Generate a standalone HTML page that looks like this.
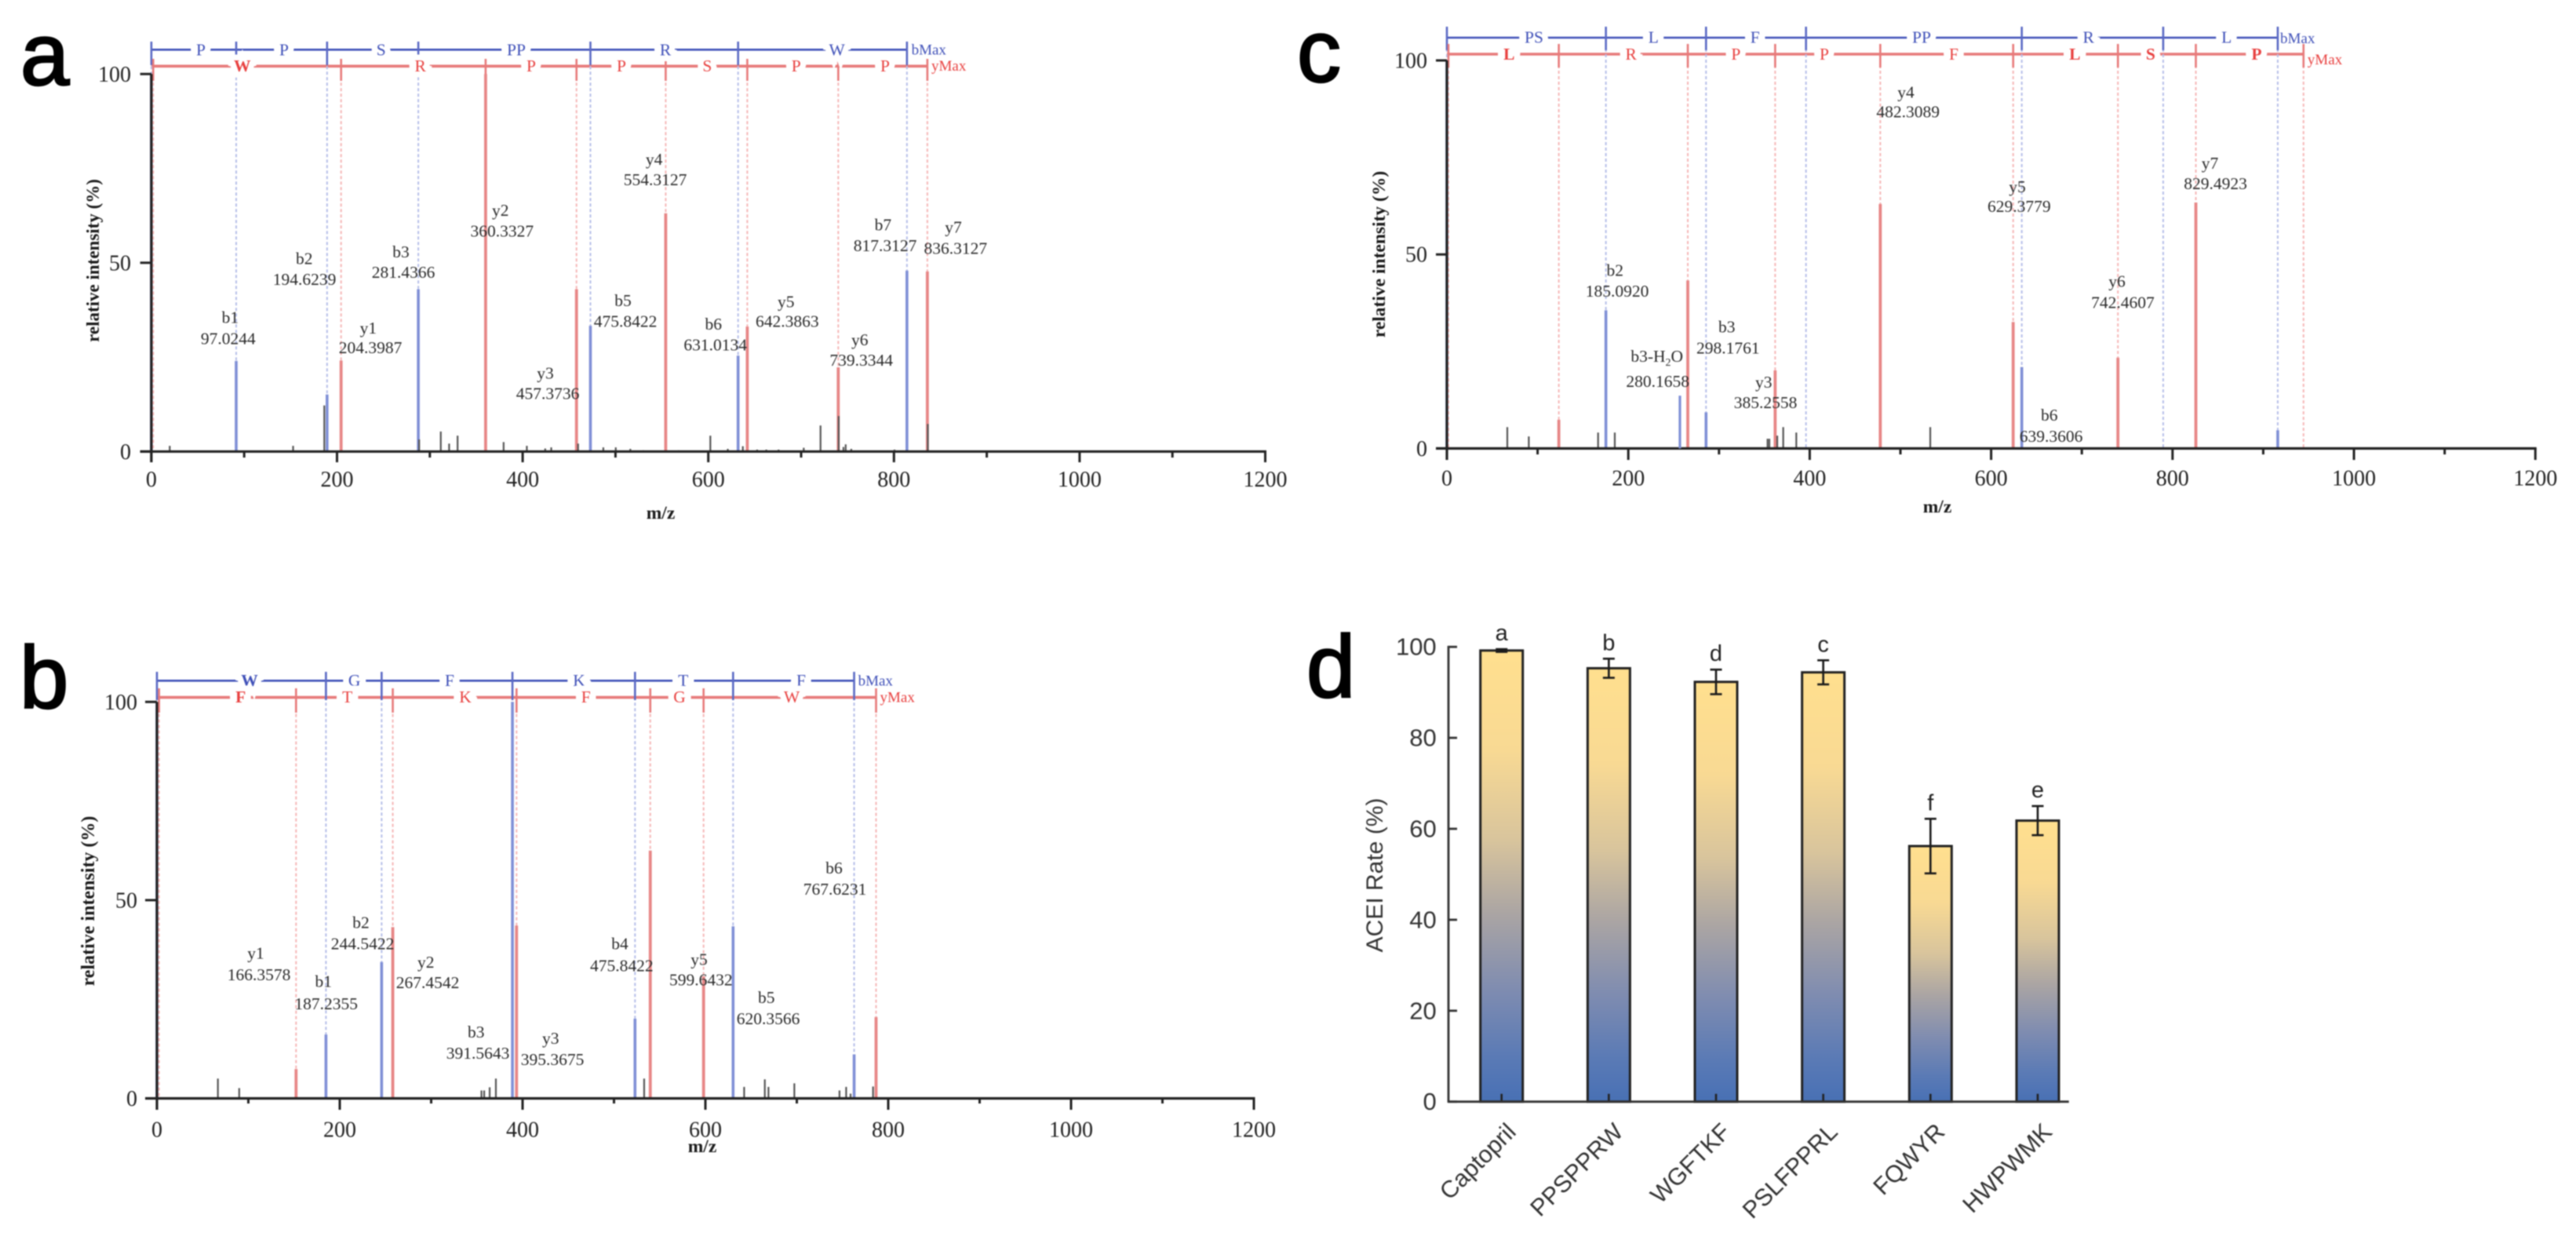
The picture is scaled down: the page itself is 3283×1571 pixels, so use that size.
<!DOCTYPE html>
<html lang="en">
<head>
<meta charset="utf-8">
<title>MS/MS spectra and ACE inhibition rate</title>
<style>
html,body{margin:0;padding:0;background:#fff;width:3283px;height:1571px;overflow:hidden}
svg{display:block;filter:blur(0.8px)}
.lbl{font-family:"Liberation Serif",serif;font-size:21.5px;fill:#2a2a2a;text-anchor:middle}
.panel{font-family:"Liberation Sans",sans-serif;font-size:112px;fill:#000;stroke:#000;stroke-width:2.5px}
.seq{font-family:"Liberation Serif",serif;font-size:21.5px;text-anchor:middle;paint-order:stroke;stroke:#fff;stroke-width:15px}
.b{fill:#3f50b8}
.r{fill:#e8403f}
.bold{font-weight:bold}
.max{font-family:"Liberation Serif",serif;font-size:19px}
.title{font-family:"Liberation Serif",serif;font-weight:bold;fill:#1a1a1a;text-anchor:middle}
</style>
</head>
<body>
<svg xmlns="http://www.w3.org/2000/svg" width="3283" height="1571" viewBox="0 0 3283 1571">
<defs>
<linearGradient id="barGradient" x1="0" y1="0" x2="0" y2="1">
<stop offset="0" stop-color="#ffdf8e"/>
<stop offset="0.22" stop-color="#f8d993"/>
<stop offset="0.42" stop-color="#d8c49c"/>
<stop offset="0.58" stop-color="#aba5a3"/>
<stop offset="0.75" stop-color="#7f8cb0"/>
<stop offset="0.9" stop-color="#5a7ab5"/>
<stop offset="1" stop-color="#4870b4"/>
</linearGradient>
</defs>
<rect x="0" y="0" width="3283" height="1571" fill="#fff"/>
<g id="marks"></g>

<g>
<text class="panel" x="26" y="108">a</text>
<text class="panel" x="25" y="902">b</text>
<text class="panel" x="1653" y="104">c</text>
<text class="panel" x="1665" y="888">d</text>
</g>

<g>
<text class="title" font-size="23" transform="translate(126,332) rotate(-90)">relative intensity (%)</text>
<text class="title" font-size="23.5" x="842" y="661">m/z</text>
<text class="seq b" x="256" y="70.7">P</text>
<text class="seq b" x="362" y="70.7">P</text>
<text class="seq b" x="485.7" y="70.7">S</text>
<text class="seq b" x="658" y="70.7">PP</text>
<text class="seq b" x="848" y="70.7">R</text>
<text class="seq b" x="1066.7" y="70.7">W</text>
<text class="max b" x="1161.6" y="69.5">bMax</text>
<text class="seq r bold" x="308.7" y="91">W</text>
<text class="seq r" x="535.7" y="91">R</text>
<text class="seq r" x="677" y="91">P</text>
<text class="seq r" x="792" y="91">P</text>
<text class="seq r" x="901.4" y="91">S</text>
<text class="seq r" x="1014.7" y="91">P</text>
<text class="seq r" x="1128" y="91">P</text>
<text class="max r" x="1187" y="90">yMax</text>
<text class="lbl" x="293.4" y="411.7">b1</text><text class="lbl" x="290.8" y="438.3">97.0244</text>
<text class="lbl" x="387.8" y="336.7">b2</text><text class="lbl" x="388" y="363">194.6239</text>
<text class="lbl" x="469.4" y="425">y1</text><text class="lbl" x="472" y="450">204.3987</text>
<text class="lbl" x="511" y="328">b3</text><text class="lbl" x="514" y="354">281.4366</text>
<text class="lbl" x="637.8" y="275">y2</text><text class="lbl" x="639.8" y="301.7">360.3327</text>
<text class="lbl" x="695" y="482.7">y3</text><text class="lbl" x="698" y="508.3">457.3736</text>
<text class="lbl" x="794" y="390">b5</text><text class="lbl" x="797" y="416.7">475.8422</text>
<text class="lbl" x="833.6" y="210">y4</text><text class="lbl" x="835" y="236">554.3127</text>
<text class="lbl" x="909.3" y="420">b6</text><text class="lbl" x="911.7" y="446.7">631.0134</text>
<text class="lbl" x="1001.7" y="391.7">y5</text><text class="lbl" x="1003.3" y="416.7">642.3863</text>
<text class="lbl" x="1095.7" y="440">y6</text><text class="lbl" x="1097.7" y="466">739.3344</text>
<text class="lbl" x="1125.4" y="293.3">b7</text><text class="lbl" x="1128" y="320">817.3127</text>
<text class="lbl" x="1215" y="296.7">y7</text><text class="lbl" x="1217.8" y="323.3">836.3127</text>
</g>

<g>
<text class="title" font-size="24" transform="translate(120,1148) rotate(-90)">relative intensity (%)</text>
<text class="title" font-size="23.5" x="895" y="1468">m/z</text>
<text class="seq b bold" x="318" y="874">W</text>
<text class="seq b" x="451.7" y="874">G</text>
<text class="seq b" x="573" y="874">F</text>
<text class="seq b" x="738" y="874">K</text>
<text class="seq b" x="870.7" y="874">T</text>
<text class="seq b" x="1021" y="874">F</text>
<text class="max b" x="1093.6" y="873.4">bMax</text>
<text class="seq r bold" x="306.7" y="895">F</text>
<text class="seq r" x="442.7" y="895">T</text>
<text class="seq r" x="593" y="895">K</text>
<text class="seq r" x="746.7" y="895">F</text>
<text class="seq r" x="866" y="895">G</text>
<text class="seq r" x="1009" y="895">W</text>
<text class="max r" x="1121.5" y="894.3">yMax</text>
<text class="lbl" x="326" y="1221.6">y1</text><text class="lbl" x="330" y="1249">166.3578</text>
<text class="lbl" x="412.3" y="1257.7">b1</text><text class="lbl" x="415.7" y="1285.8">187.2355</text>
<text class="lbl" x="460" y="1182.6">b2</text><text class="lbl" x="462" y="1209.5">244.5422</text>
<text class="lbl" x="542.7" y="1232.8">y2</text><text class="lbl" x="545" y="1259">267.4542</text>
<text class="lbl" x="606.7" y="1322">b3</text><text class="lbl" x="609" y="1348.9">391.5643</text>
<text class="lbl" x="701.7" y="1330">y3</text><text class="lbl" x="704" y="1356.9">395.3675</text>
<text class="lbl" x="790" y="1209.5">b4</text><text class="lbl" x="792.3" y="1237.6">475.8422</text>
<text class="lbl" x="891" y="1229.6">y5</text><text class="lbl" x="893.3" y="1255.7">599.6432</text>
<text class="lbl" x="976.7" y="1277.8">b5</text><text class="lbl" x="979" y="1305">620.3566</text>
<text class="lbl" x="1063" y="1113">b6</text><text class="lbl" x="1064" y="1140">767.6231</text>
</g>

<g>
<text class="title" font-size="23.5" transform="translate(1765,324) rotate(-90)">relative intensity (%)</text>
<text class="title" font-size="23.5" x="2469" y="653">m/z</text>
<text class="seq b" x="1955" y="54.5">PS</text>
<text class="seq b" x="2107.3" y="54.5">L</text>
<text class="seq b" x="2236.7" y="54.5">F</text>
<text class="seq b" x="2449" y="54.5">PP</text>
<text class="seq b" x="2661.7" y="54.5">R</text>
<text class="seq b" x="2837.7" y="54.5">L</text>
<text class="max b" x="2906" y="55">bMax</text>
<text class="seq r bold" x="1923.3" y="76">L</text>
<text class="seq r" x="2078.7" y="76">R</text>
<text class="seq r" x="2212.3" y="76">P</text>
<text class="seq r" x="2325" y="76">P</text>
<text class="seq r" x="2490" y="76">F</text>
<text class="seq r bold" x="2644.3" y="76">L</text>
<text class="seq r bold" x="2740.8" y="76">S</text>
<text class="seq r bold" x="2876" y="76">P</text>
<text class="max r" x="2940.8" y="82.2">yMax</text>
<text class="lbl" x="2058.3" y="351.3">b2</text><text class="lbl" x="2061" y="378.2">185.0920</text>
<text class="lbl" x="2111.7" y="461">b3-H<tspan dy="5" font-size="14">2</tspan><tspan dy="-5">O</tspan></text><text class="lbl" x="2112.7" y="493">280.1658</text>
<text class="lbl" x="2200.7" y="423.6">b3</text><text class="lbl" x="2202.3" y="450.5">298.1761</text>
<text class="lbl" x="2247.7" y="493.9">y3</text><text class="lbl" x="2250" y="520">385.2558</text>
<text class="lbl" x="2429" y="124.4">y4</text><text class="lbl" x="2431.7" y="149.3">482.3089</text>
<text class="lbl" x="2571" y="244.9">y5</text><text class="lbl" x="2573.3" y="270.2">629.3779</text>
<text class="lbl" x="2611.7" y="536">b6</text><text class="lbl" x="2614" y="563">639.3606</text>
<text class="lbl" x="2698" y="365.4">y6</text><text class="lbl" x="2705.4" y="392.3">742.4607</text>
<text class="lbl" x="2816.5" y="214.8">y7</text><text class="lbl" x="2823.5" y="240.9">829.4923</text>
</g>

<text x="0" y="0" transform="translate(1762,1115) rotate(-90)" font-family="'Liberation Sans',sans-serif" font-size="30" fill="#333" text-anchor="middle">ACEI Rate (%)</text>
</svg>

<script>
// Shared tick labels for the spectra
const spectrumXMajor = [0, 200, 400, 600, 800, 1000, 1200];
const spectrumXMinor = [100, 300, 500, 700, 900, 1100];
const spectrumYTicks = [0, 50, 100];

// Panel a
const aBlueMz = [0, 91.4, 189.3, 287.6, 473, 632.1, 814];
const aBlueIntensity = [100, 24, 15.1, 43, 33.3, 25.4, 47.9];
const aRedMz = [2, 204.4, 360.1, 458, 554.1, 642, 740, 836];
const aRedIntensity = [0, 24.1, 100, 43, 63.1, 33.1, 22.3, 47.7];
const aOtherMz = [19.8, 152.7, 186.3, 288.5, 311.8, 320.8, 329.9, 379.5, 404.5, 424.3, 430.8, 459.7, 486.9, 500.3, 516, 530, 568, 602.2, 621, 637.2, 652.6, 662.5, 675.7, 702.8, 720.9, 740.5, 745.6, 748, 754, 800.6, 836.5];
const aOtherIntensity = [1.5, 1.5, 12.2, 3.2, 5.3, 2.1, 4.2, 2.5, 1.5, 0.8, 1.1, 2.1, 1.1, 1.1, 0.7, 0.3, 0.3, 4.2, 0.7, 1.4, 0.5, 0.5, 0.5, 1, 6.9, 9.4, 1.2, 1.9, 0.7, 0.5, 7.3];

// Panel b
const bBlueMz = [0, 184.9, 245.8, 388.9, 523, 630.3, 762.7];
const bBlueIntensity = [100, 16.1, 34.4, 100, 20.1, 43.4, 11.1];
const bRedMz = [2.3, 152.2, 258, 393.4, 539.7, 598, 786.7];
const bRedIntensity = [0, 7.4, 43.2, 43.6, 62.5, 30.8, 20.5];
const bOtherMz = [66.7, 90, 355, 358, 364, 370.8, 533, 642.4, 665, 669, 697.3, 746.7, 754, 758.8, 783.4];
const bOtherIntensity = [5, 2.6, 2, 2, 2.8, 5, 5, 2.9, 4.8, 2.9, 3.8, 2, 2.9, 1.2, 3];

// Panel c
const cBlueMz = [0, 175.3, 285.7, 395.9, 633.8, 789.7, 916];
const cBlueIntensity = [100, 35.6, 9.3, 0, 21, 0, 4.7];
const cRedMz = [1.7, 123.4, 265.6, 361.9, 477.8, 624.3, 739.8, 825.7, 944.4];
const cRedIntensity = [0, 7.4, 43.3, 20.1, 63, 32.6, 23.4, 63.4, 0];
const cUntickedBlueMz = [256.9];
const cUntickedBlueIntensity = [13.6];
const cOtherMz = [66.6, 90.3, 166.7, 185.1, 353.5, 355.5, 364.2, 370.8, 385.2, 532.9];
const cOtherIntensity = [5.5, 3.1, 4.1, 4.1, 2.5, 2.5, 3.3, 5.5, 4.1, 5.5];

// Panel d
const dCategories = ['Captopril', 'PPSPPRW', 'WGFTKF', 'PSLFPPRL', 'FQWYR', 'HWPWMK'];
const dValues = [99.2, 95.3, 92.3, 94.4, 56.2, 61.8];
const dErrors = [0.3, 2.1, 2.7, 2.65, 6, 3.2];
const dLetters = ['a', 'b', 'd', 'c', 'f', 'e'];
const dYTicks = [0, 20, 40, 60, 80, 100];

const NS = 'http://www.w3.org/2000/svg';
const root = document.getElementById('marks');

function make(tag, attrs, parent) {
  const el = document.createElementNS(NS, tag);
  for (const k in attrs) el.setAttribute(k, attrs[k]);
  (parent || root).appendChild(el);
  return el;
}
function seg(parent, x1, y1, x2, y2, stroke, width, dash) {
  const attrs = {x1: x1, y1: y1, x2: x2, y2: y2, stroke: stroke, 'stroke-width': width};
  if (dash) attrs['stroke-dasharray'] = dash;
  return make('line', attrs, parent);
}

function drawSpectrum(p, blueMz, blueVal, redMz, redVal, otherMz, otherVal) {
  const X = m => p.x0 + m * p.sx;
  const Y = v => p.y0 - v * p.sy;
  const g = make('g', {});
  
  

  const blueGuide = seg(g, X(0), p.blueY, X(blueMz[blueMz.length - 1]), p.blueY, '#3f50b8', 2.6);
  
  
  const redGuide = seg(g, X(0), p.redY, X(redMz[redMz.length - 1]), p.redY, '#e77a7a', 3.6);
  
  

  blueMz.forEach((m, i) => {
    const x = X(m);
    const dashed = seg(g, x, p.blueY, x, Y(blueVal[i]), '#b4bde8', 2, '4 3');
    
    
    const tick = seg(g, x, p.blueTick[0], x, p.blueTick[1], '#5a69c4', 2.6);
    
    
    if (blueVal[i] > 0) {
      const peak = seg(g, x, Y(blueVal[i]), x, p.y0, '#7f8fd6', 3.6);
      
      
    }
  });
  redMz.forEach((m, i) => {
    const x = X(m);
    const dashed = seg(g, x, p.redY, x, Y(redVal[i]), '#f5b5b5', 2, '4 3');
    
    
    const tick = seg(g, x, p.redTick[0], x, p.redTick[1], '#e77a7a', 2.6);
    
    
    if (redVal[i] > 0) {
      const peak = seg(g, x, Y(redVal[i]), x, p.y0, '#e78686', 3.8);
      
      
    }
  });
  otherMz.forEach((m, i) => {
    const peak = seg(g, X(m), Y(otherVal[i]), X(m), p.y0, '#555', 2.2);
    
    
  });

  const xAxis = seg(g, p.axisLeft, p.y0, X(1200) + 1.5, p.y0, '#222', 3.2);
  
  
  const yAxis = seg(g, p.x0, Y(100), p.x0, p.majorEnd, '#222', 3.2);
  
  

  spectrumXMajor.forEach(v => {
    const t = seg(g, X(v), p.y0, X(v), p.majorEnd, '#222', 3);
    
    
    const lab = make('text', {x: X(v), y: p.xLabelY, 'text-anchor': 'middle', 'font-family': '"Liberation Serif",serif', 'font-size': 28, fill: '#222'}, g);
    lab.textContent = v;
    
    
  });
  spectrumXMinor.forEach(v => {
    const t = seg(g, X(v), p.y0, X(v), p.minorEnd, '#222', 3);
    
    
  });
  spectrumYTicks.forEach(v => {
    const t = seg(g, p.axisLeft, Y(v), p.x0, Y(v), '#222', 3);
    
    
    const lab = make('text', {x: p.labelRight, y: Y(v) + 9.5, 'text-anchor': 'end', 'font-family': '"Liberation Serif",serif', 'font-size': 28, fill: '#222'}, g);
    lab.textContent = v;
    
    
  });
  return {X: X, Y: Y, g: g};
}

drawSpectrum({name: 'panel-a', x0: 192.9, sx: 1.183, y0: 575.3, sy: 4.81, blueY: 63.3, redY: 84.3, blueTick: [53, 83], redTick: [75, 103], axisLeft: 178.6, majorEnd: 589, minorEnd: 583, labelRight: 167, xLabelY: 620},
  aBlueMz, aBlueIntensity, aRedMz, aRedIntensity, aOtherMz, aOtherIntensity);
drawSpectrum({name: 'panel-b', x0: 200, sx: 1.165, y0: 1399.5, sy: 5.052, blueY: 867.3, redY: 888.6, blueTick: [856, 892], redTick: [877, 908], axisLeft: 185, majorEnd: 1414, minorEnd: 1406, labelRight: 175, xLabelY: 1448.5},
  bBlueMz, bBlueIntensity, bRedMz, bRedIntensity, bOtherMz, bOtherIntensity);
const cAxes = drawSpectrum({name: 'panel-c', x0: 1844, sx: 1.156, y0: 571.4, sy: 4.944, blueY: 48, redY: 69, blueTick: [34, 64], redTick: [56, 86], axisLeft: 1830, majorEnd: 586, minorEnd: 579, labelRight: 1819, xLabelY: 618.4},
  cBlueMz, cBlueIntensity, cRedMz, cRedIntensity, cOtherMz, cOtherIntensity);
cUntickedBlueMz.forEach((m, i) => {
  const peak = seg(cAxes.g, cAxes.X(m), cAxes.Y(cUntickedBlueIntensity[i]), cAxes.X(m), 571.4, '#7f8fd6', 3.2);
  
  
});

// Bar chart (panel d)
(function () {
  const y0 = 1403.7, sy = 5.795, firstCenter = 1913.7, step = 136.65, barW = 54, axisX = 1846, axisEnd = 2636.7;
  const Y = v => y0 - v * sy;
  const X = i => firstCenter + i * step;
  const g = make('g', {});
  
  

  dCategories.forEach((c, i) => {
    const bar = make('rect', {x: X(i) - barW / 2, y: Y(dValues[i]), width: barW, height: y0 - Y(dValues[i]), fill: 'url(#barGradient)', stroke: '#222', 'stroke-width': 3}, g);
    
    

    const hi = Y(dValues[i] + dErrors[i]), lo = Y(dValues[i] - dErrors[i]);
    const stem = seg(g, X(i), hi, X(i), lo, '#1a1a1a', 2.6);
    
    
    const capTop = seg(g, X(i) - 7.5, hi, X(i) + 7.5, hi, '#1a1a1a', 2.6);
    
    
    const capBottom = seg(g, X(i) - 7.5, lo, X(i) + 7.5, lo, '#1a1a1a', 2.6);
    
    

    const letter = make('text', {x: X(i), y: hi - 11, 'text-anchor': 'middle', 'font-family': '"Liberation Sans",sans-serif', 'font-size': 29, fill: '#222'}, g);
    letter.textContent = dLetters[i];
    
    

    const tick = seg(g, X(i), y0, X(i), y0 - 10, '#222', 2.6);
    
    

    const lab = make('text', {'text-anchor': 'end', 'font-family': '"Liberation Sans",sans-serif', 'font-size': 30.5, fill: '#333', transform: 'translate(' + (X(i) + 20) + ',1444) rotate(-45)'}, g);
    lab.textContent = c;
    
    
  });

  const xAxis = seg(g, axisX - 1.3, y0, axisEnd, y0, '#333', 2.8);
  
  
  const yAxis = seg(g, axisX, Y(100) - 1.3, axisX, y0, '#333', 2.8);
  
  
  dYTicks.forEach(v => {
    const t = seg(g, axisX, Y(v), axisX + 11, Y(v), '#333', 2.8);
    
    
    const lab = make('text', {x: 1830.7, y: Y(v) + 10.5, 'text-anchor': 'end', 'font-family': '"Liberation Sans",sans-serif', 'font-size': 31, fill: '#333'}, g);
    lab.textContent = v;
    
    
  });
})();
</script>
</body>
</html>
